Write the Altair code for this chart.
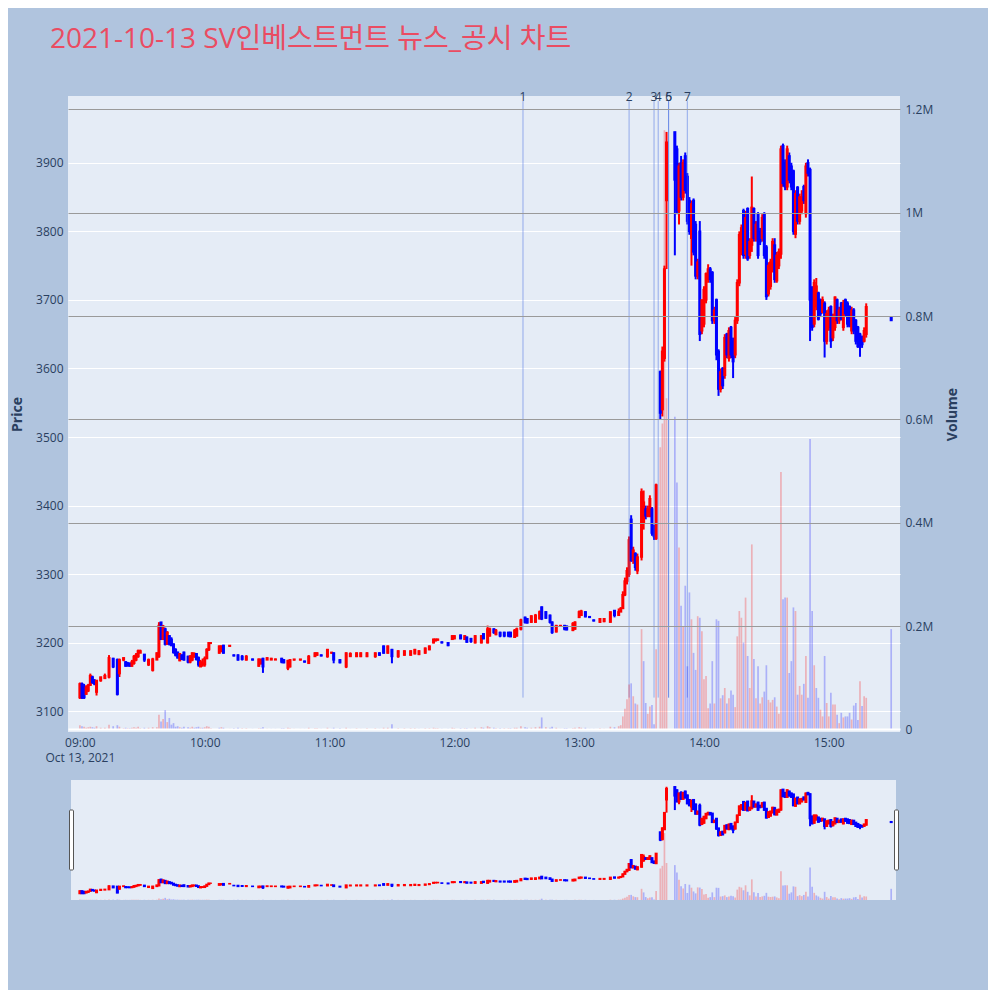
import altair as alt
import pandas as pd

DATE = "2021-10-13"
TITLE = "2021-10-13 SV인베스트먼트 뉴스_공시 차트"
DATE_LABEL = "Oct 13, 2021"

# ---- 1-minute candles (time, open, high, low, close, volume in thousands) ----
times = [
    "09:00", "09:01", "09:02", "09:03", "09:04", "09:05", "09:06", "09:07", "09:08", "09:10",
    "09:12", "09:14", "09:16", "09:18", "09:19", "09:21", "09:22", "09:23", "09:24", "09:25",
    "09:26", "09:27", "09:28", "09:29", "09:31", "09:33", "09:35", "09:37", "09:38", "09:39",
    "09:40", "09:41", "09:42", "09:43", "09:44", "09:45", "09:46", "09:47", "09:48", "09:49",
    "09:50", "09:52", "09:53", "09:54", "09:55", "09:56", "09:57", "09:58", "09:59", "10:00",
    "10:01", "10:02", "10:03", "10:07", "10:08", "10:09", "10:12", "10:14", "10:16", "10:18",
    "10:20", "10:23", "10:26", "10:27", "10:28", "10:30", "10:32", "10:34", "10:37", "10:38",
    "10:40", "10:41", "10:43", "10:46", "10:48", "10:50", "10:53", "10:54", "10:56", "10:59",
    "11:01", "11:02", "11:05", "11:08", "11:10", "11:13", "11:15", "11:18", "11:22", "11:24",
    "11:26", "11:28", "11:30", "11:33", "11:36", "11:39", "11:41", "11:43", "11:46", "11:48",
    "11:50", "11:51", "11:52", "11:54", "11:57", "11:59", "12:00", "12:03", "12:05", "12:06",
    "12:08", "12:10", "12:13", "12:14", "12:16", "12:17", "12:19", "12:20", "12:22", "12:24",
    "12:26", "12:27", "12:29", "12:30", "12:32", "12:34", "12:35", "12:37", "12:39", "12:41",
    "12:42", "12:44", "12:46", "12:47", "12:49", "12:51", "12:53", "12:54", "12:57", "12:58",
    "13:00", "13:01", "13:03", "13:05", "13:07", "13:10", "13:12", "13:15", "13:17", "13:19",
    "13:20", "13:21", "13:22", "13:23", "13:24", "13:25", "13:26", "13:27", "13:28", "13:30",
    "13:31", "13:32", "13:33", "13:34", "13:35", "13:36", "13:37", "13:39", "13:40", "13:41",
    "13:42", "13:46", "13:47", "13:48", "13:49", "13:50", "13:51", "13:52", "13:53", "13:54",
    "13:55", "13:56", "13:57", "13:58", "13:59", "14:00", "14:01", "14:02", "14:03", "14:04",
    "14:05", "14:06", "14:07", "14:08", "14:09", "14:10", "14:11", "14:12", "14:13", "14:14",
    "14:15", "14:16", "14:17", "14:18", "14:19", "14:20", "14:21", "14:22", "14:23", "14:24",
    "14:25", "14:26", "14:27", "14:28", "14:29", "14:30", "14:31", "14:32", "14:33", "14:34",
    "14:35", "14:36", "14:37", "14:38", "14:39", "14:40", "14:41", "14:42", "14:43", "14:44",
    "14:45", "14:46", "14:47", "14:48", "14:49", "14:50", "14:51", "14:52", "14:53", "14:54",
    "14:55", "14:56", "14:57", "14:58", "14:59", "15:00", "15:01", "15:02", "15:03", "15:04",
    "15:05", "15:06", "15:07", "15:08", "15:09", "15:10", "15:11", "15:12", "15:13", "15:14",
    "15:15", "15:16", "15:17", "15:18", "15:30",
]
opens = [
    3120, 3140, 3135, 3125, 3130, 3138, 3150, 3145, 3128, 3145,
    3148, 3150, 3177, 3175, 3155, 3175, 3172, 3170, 3170, 3166,
    3170, 3175, 3180, 3185, 3183, 3168, 3160, 3175, 3180, 3230,
    3205, 3220, 3198, 3210, 3205, 3198, 3190, 3186, 3174, 3182,
    3186, 3180, 3172, 3175, 3180, 3184, 3178, 3165, 3168, 3168,
    3177, 3190, 3200, 3185, 3188, 3196, 3195, 3182, 3182, 3180,
    3175, 3176, 3166, 3170, 3177, 3175, 3175, 3175, 3177, 3175,
    3163, 3165, 3175, 3175, 3173, 3170, 3180, 3182, 3182, 3180,
    3185, 3185, 3175, 3165, 3180, 3180, 3180, 3180, 3180, 3185,
    3195, 3185, 3190, 3180, 3182, 3182, 3184, 3183, 3185, 3190,
    3200, 3203, 3204, 3201, 3200, 3205, 3206, 3211, 3205, 3208,
    3206, 3200, 3200, 3213, 3200, 3210, 3220, 3212, 3215, 3215,
    3215, 3215, 3208, 3210, 3220, 3237, 3235, 3230, 3230, 3235,
    3252, 3245, 3240, 3230, 3216, 3224, 3225, 3224, 3218, 3220,
    3237, 3240, 3245, 3238, 3233, 3230, 3231, 3230, 3247, 3240,
    3245, 3250, 3270, 3290, 3300, 3380, 3320, 3330, 3305, 3325,
    3375, 3395, 3385, 3385, 3395, 3370, 3352, 3595, 3540, 3615,
    3845, 3945, 3920, 3830, 3900, 3850, 3910, 3880, 3845, 3790,
    3845, 3810, 3735, 3800, 3655, 3665, 3700, 3730, 3745, 3740,
    3670, 3700, 3625, 3570, 3600, 3590, 3650, 3615, 3660, 3640,
    3620, 3670, 3725, 3770, 3830, 3767, 3833, 3765, 3780, 3833,
    3790, 3825, 3800, 3790, 3825, 3777, 3709, 3720, 3745, 3780,
    3728, 3750, 3767, 3925, 3900, 3865, 3910, 3895, 3888, 3796,
    3864, 3815, 3830, 3865, 3826, 3900, 3890, 3718, 3665, 3690,
    3710, 3700, 3682, 3695, 3640, 3660, 3690, 3645, 3660, 3700,
    3670, 3695, 3660, 3700, 3695, 3690, 3655, 3685, 3670, 3660,
    3650, 3645, 3640, 3650, 3675,
]
highs = [
    3142, 3142, 3140, 3138, 3140, 3155, 3152, 3147, 3145, 3150,
    3155, 3182, 3178, 3177, 3177, 3178, 3173, 3172, 3171, 3175,
    3182, 3185, 3190, 3190, 3183, 3177, 3178, 3186, 3230, 3230,
    3226, 3222, 3217, 3211, 3208, 3199, 3192, 3187, 3185, 3183,
    3187, 3181, 3182, 3186, 3186, 3185, 3180, 3175, 3177, 3180,
    3192, 3201, 3201, 3196, 3196, 3197, 3196, 3183, 3183, 3182,
    3182, 3177, 3177, 3177, 3178, 3178, 3178, 3177, 3178, 3176,
    3175, 3176, 3176, 3176, 3174, 3182, 3186, 3186, 3183, 3191,
    3186, 3186, 3176, 3186, 3186, 3186, 3186, 3186, 3186, 3186,
    3196, 3196, 3191, 3189, 3189, 3189, 3191, 3189, 3193, 3196,
    3206, 3206, 3206, 3202, 3201, 3211, 3211, 3212, 3211, 3209,
    3207, 3211, 3211, 3214, 3225, 3222, 3221, 3220, 3216, 3216,
    3216, 3216, 3220, 3222, 3235, 3238, 3236, 3240, 3242, 3247,
    3253, 3246, 3241, 3231, 3226, 3226, 3226, 3225, 3230, 3231,
    3247, 3248, 3246, 3239, 3234, 3236, 3236, 3245, 3247, 3250,
    3252, 3275, 3295, 3310, 3355, 3386, 3340, 3332, 3330, 3425,
    3422, 3400, 3400, 3415, 3398, 3372, 3432, 3597, 3632, 3750,
    3945, 3945, 3925, 3900, 3910, 3905, 3915, 3885, 3850, 3845,
    3848, 3815, 3760, 3815, 3700, 3720, 3740, 3752, 3748, 3742,
    3690, 3702, 3628, 3600, 3602, 3650, 3652, 3660, 3662, 3645,
    3675, 3730, 3800, 3810, 3833, 3830, 3835, 3790, 3880, 3835,
    3815, 3828, 3805, 3825, 3828, 3780, 3755, 3760, 3790, 3790,
    3770, 3775, 3925, 3928, 3905, 3925, 3915, 3900, 3890, 3860,
    3866, 3855, 3860, 3868, 3900, 3905, 3893, 3720, 3730, 3732,
    3712, 3702, 3705, 3698, 3685, 3690, 3692, 3680, 3705, 3702,
    3690, 3697, 3700, 3702, 3698, 3692, 3690, 3688, 3672, 3662,
    3652, 3648, 3660, 3695, 3675,
]
lows = [
    3118, 3118, 3118, 3125, 3128, 3138, 3140, 3138, 3123, 3143,
    3148, 3148, 3163, 3123, 3150, 3173, 3165, 3165, 3165, 3165,
    3168, 3173, 3178, 3185, 3172, 3166, 3158, 3175, 3178, 3204,
    3204, 3196, 3197, 3196, 3195, 3184, 3180, 3177, 3173, 3175,
    3174, 3170, 3170, 3173, 3178, 3174, 3165, 3165, 3165, 3165,
    3176, 3188, 3198, 3184, 3186, 3184, 3194, 3180, 3174, 3174,
    3174, 3174, 3165, 3168, 3156, 3175, 3175, 3175, 3170, 3170,
    3160, 3164, 3174, 3174, 3171, 3170, 3180, 3181, 3180, 3178,
    3184, 3170, 3170, 3163, 3180, 3179, 3179, 3179, 3178, 3181,
    3184, 3184, 3170, 3178, 3181, 3181, 3183, 3182, 3184, 3189,
    3199, 3202, 3203, 3199, 3195, 3204, 3205, 3205, 3204, 3200,
    3200, 3199, 3199, 3205, 3199, 3209, 3213, 3211, 3208, 3208,
    3208, 3208, 3207, 3209, 3218, 3228, 3228, 3229, 3229, 3234,
    3233, 3235, 3228, 3213, 3215, 3224, 3218, 3218, 3217, 3219,
    3236, 3239, 3237, 3236, 3231, 3229, 3230, 3230, 3237, 3240,
    3245, 3250, 3268, 3285, 3296, 3318, 3315, 3305, 3300, 3320,
    3365, 3380, 3383, 3383, 3356, 3350, 3350, 3525, 3530, 3610,
    3745, 3765, 3825, 3810, 3845, 3845, 3855, 3810, 3795, 3750,
    3765, 3730, 3730, 3640, 3650, 3660, 3695, 3725, 3725, 3665,
    3665, 3612, 3560, 3565, 3570, 3585, 3615, 3610, 3615, 3586,
    3615, 3665, 3720, 3765, 3760, 3760, 3757, 3760, 3770, 3785,
    3785, 3760, 3780, 3785, 3760, 3700, 3705, 3715, 3740, 3725,
    3725, 3745, 3760, 3865, 3860, 3860, 3870, 3860, 3795, 3790,
    3810, 3810, 3825, 3840, 3820, 3880, 3640, 3655, 3660, 3685,
    3670, 3675, 3680, 3616, 3635, 3655, 3630, 3640, 3655, 3665,
    3665, 3670, 3655, 3675, 3660, 3660, 3650, 3650, 3635, 3630,
    3617, 3630, 3638, 3645, 3670,
]
closes = [
    3140, 3120, 3120, 3135, 3138, 3152, 3142, 3140, 3145, 3150,
    3152, 3178, 3165, 3125, 3175, 3178, 3166, 3167, 3166, 3172,
    3180, 3182, 3188, 3188, 3175, 3175, 3176, 3185, 3225, 3205,
    3224, 3198, 3215, 3198, 3196, 3186, 3182, 3178, 3184, 3176,
    3175, 3172, 3180, 3185, 3184, 3176, 3168, 3172, 3170, 3177,
    3190, 3200, 3200, 3195, 3195, 3185, 3196, 3181, 3175, 3176,
    3180, 3175, 3176, 3175, 3165, 3178, 3177, 3176, 3172, 3171,
    3174, 3175, 3176, 3176, 3172, 3180, 3185, 3185, 3181, 3190,
    3186, 3175, 3171, 3185, 3184, 3185, 3185, 3185, 3185, 3182,
    3185, 3195, 3180, 3188, 3188, 3188, 3190, 3188, 3192, 3195,
    3205, 3205, 3205, 3200, 3196, 3210, 3210, 3206, 3210, 3201,
    3202, 3210, 3210, 3206, 3220, 3220, 3215, 3218, 3210, 3210,
    3210, 3209, 3218, 3220, 3233, 3230, 3229, 3239, 3240, 3245,
    3235, 3236, 3230, 3215, 3225, 3225, 3220, 3219, 3228, 3230,
    3245, 3246, 3238, 3237, 3232, 3235, 3235, 3245, 3240, 3245,
    3250, 3270, 3290, 3305, 3350, 3320, 3335, 3310, 3325, 3420,
    3405, 3385, 3395, 3410, 3360, 3355, 3430, 3535, 3625, 3745,
    3930, 3875, 3830, 3895, 3850, 3900, 3860, 3815, 3800, 3840,
    3770, 3735, 3755, 3650, 3700, 3715, 3738, 3745, 3730, 3670,
    3685, 3620, 3570, 3595, 3575, 3645, 3620, 3655, 3620, 3610,
    3670, 3725, 3795, 3805, 3765, 3820, 3760, 3785, 3835, 3790,
    3810, 3765, 3785, 3820, 3765, 3705, 3750, 3755, 3785, 3730,
    3765, 3770, 3920, 3870, 3865, 3920, 3875, 3865, 3800, 3855,
    3815, 3850, 3850, 3845, 3895, 3885, 3700, 3660, 3725, 3720,
    3672, 3680, 3700, 3640, 3680, 3685, 3640, 3675, 3704, 3670,
    3685, 3672, 3695, 3680, 3665, 3662, 3685, 3655, 3640, 3632,
    3640, 3635, 3655, 3690, 3670,
]
volumes_k = [
    8, 6, 5, 3, 4, 5, 4, 3, 6, 3,
    3, 9, 6, 8, 5, 2, 3, 2, 2, 3,
    4, 3, 5, 2, 3, 3, 4, 4, 28, 15,
    20, 37, 14, 22, 9, 12, 5, 6, 4, 3,
    5, 4, 3, 5, 3, 4, 5, 3, 3, 4,
    6, 5, 2, 3, 4, 3, 1, 2, 3, 2,
    2, 1, 2, 2, 4, 1, 1, 1, 2, 2,
    3, 2, 1, 1, 1, 3, 2, 2, 1, 3,
    1, 3, 2, 3, 1, 2, 1, 2, 2, 1,
    3, 3, 10, 2, 2, 2, 2, 1, 2, 2,
    3, 2, 2, 1, 1, 3, 2, 2, 2, 2,
    1, 3, 4, 3, 6, 4, 3, 2, 2, 2,
    2, 2, 3, 3, 6, 4, 3, 3, 4, 5,
    23, 4, 3, 5, 3, 1, 2, 2, 2, 3,
    4, 3, 3, 1, 1, 2, 1, 5, 4, 6,
    8, 25, 40, 58, 87, 89, 64, 50, 48, 194,
    132, 51, 30, 44, 47, 10, 155, 546, 592, 1160,
    641, 605, 478, 352, 239, 200, 278, 122, 265, 213,
    148, 115, 219, 216, 190, 97, 103, 41, 50, 132,
    50, 213, 210, 60, 66, 80, 50, 60, 75, 67,
    43, 180, 229, 216, 168, 255, 142, 80, 358, 136,
    60, 122, 50, 62, 73, 124, 57, 52, 57, 62,
    44, 30, 498, 252, 255, 255, 109, 132, 236, 229,
    67, 84, 67, 88, 142, 61, 562, 229, 124, 80,
    61, 38, 25, 142, 51, 25, 71, 48, 48, 28,
    12, 32, 23, 25, 25, 32, 19, 46, 51, 18,
    93, 45, 64, 61, 194,
]

# ---- news / disclosure markers ----
news_times = ["12:33", "13:24", "13:36", "13:38", "13:43", "13:43", "13:52"]
news_labels = ["1", "2", "3", "4", "5", "6", "7"]
news_low, news_high = 3120, 3990

# ---- axes ----
hour_ticks = ["09:00", "10:00", "11:00", "12:00", "13:00", "14:00", "15:00"]
price_ticks = [3100, 3200, 3300, 3400, 3500, 3600, 3700, 3800, 3900]
volume_ticks = [0, 200000, 400000, 600000, 800000, 1000000, 1200000]

df = pd.DataFrame({
    "t": [f"{DATE}T{t}:00" for t in times],
    "o": opens, "h": highs, "l": lows, "c": closes,
    "v": [v * 1000 for v in volumes_k],
})
df["dir"] = ["up" if c >= o else "down" for o, c in zip(df.o, df.c)]
prev = df.c.shift(1).fillna(df.o.iloc[0])
df["vdir"] = ["up" if c >= p else "down" for c, p in zip(df.c, prev)]

news = pd.DataFrame({
    "t": [f"{DATE}T{t}:00" for t in news_times],
    "label": news_labels,
    "y0": news_low, "y1": news_high,
})

def dt(hhmmss):
    h, m, s = (int(x) for x in hhmmss.split(":"))
    return alt.DateTime(year=2021, month=10, date=13, hours=h, minutes=m, seconds=s)

FONT = "Open Sans"
AX = "#2a3f5f"
W, H = 832, 636

x_scale = alt.Scale(domain=[dt("08:56:41"), dt("15:31:50")])
x_axis = alt.Axis(
    values=[dt(h + ":00") for h in hour_ticks],
    labelExpr=f"hours(datum.value) == 9 ? [timeFormat(datum.value, '%H:%M'), '{DATE_LABEL}'] : timeFormat(datum.value, '%H:%M')",
    grid=False, ticks=False, domain=False, title=None,
    labelFont=FONT, labelFontSize=12, labelColor=AX, labelPadding=5, labelLineHeight=15,
)
X = alt.X("t:T", scale=x_scale, axis=x_axis, title=None)
Xs = alt.X("t:T", scale=x_scale, axis=None)

price_scale = alt.Scale(domain=[3069.8, 3997.4], nice=False, zero=False)
price_axis = alt.Axis(
    orient="left", values=price_ticks, format="d", title="Price", grid=True, gridColor="white", gridWidth=1,
    ticks=False, domain=False, labelFont=FONT, labelFontSize=12, labelColor=AX, labelPadding=5,
    titleFont=FONT, titleFontSize=14, titleFontWeight="bold", titleColor=AX, titlePadding=11,
)
vol_scale = alt.Scale(domain=[-5200, 1226100], nice=False, zero=False)
vol_axis = alt.Axis(
    orient="right", values=volume_ticks,
    labelExpr="datum.value == 0 ? '0' : format(datum.value / 1000000, '~g') + 'M'",
    title="Volume", grid=True,
    gridColor={"condition": {"test": "datum.value === 0", "value": "white"}, "value": "#9a9a9a"},
    gridWidth={"condition": {"test": "datum.value === 0", "value": 2}, "value": 1},
    zindex=1, ticks=False, domain=False,
    labelFont=FONT, labelFontSize=12, labelColor=AX, labelPadding=5,
    titleFont=FONT, titleFontSize=14, titleFontWeight="bold", titleColor=AX, titlePadding=27,
    titleAngle=270,
)

color = alt.Color("dir:N", scale=alt.Scale(domain=["up", "down"], range=["#FF0000", "#0000FF"]), legend=None)
vcolor = alt.Color("vdir:N", scale=alt.Scale(domain=["up", "down"], range=["#FF0000", "#0000FF"]), legend=None)

base = alt.Chart(df)

wicks = base.mark_rule(strokeWidth=2).encode(
    x=X, y=alt.Y("l:Q", scale=price_scale, axis=price_axis), y2="h:Q", color=color)
bodies = base.mark_bar(width=1.5, strokeWidth=1.5).encode(
    x=X, y=alt.Y("o:Q", scale=price_scale, axis=price_axis), y2="c:Q", color=color, stroke=color)
news_rules = alt.Chart(news).mark_rule(color="royalblue", opacity=0.5, strokeWidth=1).encode(
    x=X, y=alt.Y("y0:Q", scale=price_scale, axis=price_axis), y2="y1:Q")
news_text = alt.Chart(news).mark_text(baseline="alphabetic", font=FONT, fontSize=12, color=AX).encode(
    x=X, y=alt.Y("y1:Q", scale=price_scale, axis=price_axis), text="label:N")

price_layer = alt.layer(wicks, bodies, news_rules, news_text)
vol_layer = base.mark_bar(width=1.7, opacity=0.25).encode(
    x=X, y=alt.Y("v:Q", scale=vol_scale, axis=vol_axis), color=vcolor)

main = alt.layer(price_layer, vol_layer).resolve_scale(y="independent").properties(
    width=W, height=H, view=alt.ViewBackground(fill="#E5ECF6", stroke=None))

# ---- range slider ----
SH = 120
s_price = alt.Scale(domain=[3069.8, 3997.4], nice=False, zero=False)
s_vol = alt.Scale(domain=[0, 2080000], nice=False, zero=False)
slider_bg = alt.Chart(pd.DataFrame({"a": [0]})).mark_rect(color="#E5ECF6").encode(
    x=alt.value(3), x2=alt.value(828), y=alt.value(0), y2=alt.value(SH))
s_vol_bars = base.mark_bar(width=1.7, opacity=0.25).encode(
    x=Xs, y=alt.Y("v:Q", scale=s_vol, axis=None), color=vcolor)
s_wicks = base.mark_rule(strokeWidth=2).encode(
    x=Xs, y=alt.Y("l:Q", scale=s_price, axis=None), y2="h:Q", color=color)
s_bodies = base.mark_bar(width=1.5, strokeWidth=1.5).encode(
    x=Xs, y=alt.Y("o:Q", scale=s_price, axis=None), y2="c:Q", color=color, stroke=color)
handles = alt.Chart(pd.DataFrame({"side": ["left", "right"], "x0": [1.5, 826.5], "x1": [5.5, 830.5]})).mark_rect(
    fill="white", stroke="#555555", strokeWidth=1, cornerRadius=1).encode(
    x=alt.X("x0:Q", scale=alt.Scale(domain=[0, W], range=[0, W]), axis=None),
    x2="x1:Q", y=alt.value(30), y2=alt.value(90))

slider = alt.layer(
    slider_bg, s_vol_bars, alt.layer(s_wicks, s_bodies), handles
).resolve_scale(y="independent", x="independent").properties(
    width=W, height=SH, view=alt.ViewBackground(fill=None, stroke=None))

chart = alt.vconcat(main, slider, spacing=17).properties(
    title=alt.TitleParams(
        text=TITLE, anchor="start", frame="group", dx=-18, offset=15.5, baseline="alphabetic",
        fontSize=28, font="Open Sans, Noto Sans CJK KR", color="#EA4C62", fontWeight="normal"),
    background="#B0C4DE",
    padding={"left": 2, "top": 17, "right": 28, "bottom": 90},
).configure_view(strokeWidth=0)

chart.save("out.html", embed_options={"renderer": "svg", "actions": False})
